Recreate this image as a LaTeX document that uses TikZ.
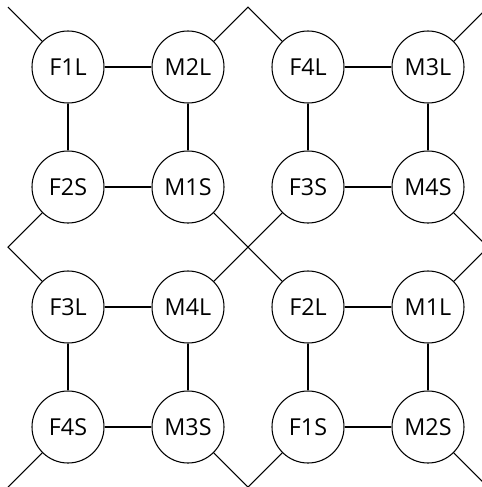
\documentclass[tikz,border=0pt]{standalone}
\usepackage{fontspec}
\setmainfont{Open Sans}
\begin{document}
\begin{tikzpicture}[x=0.75pt,y=-0.75pt,
  person/.style={circle,draw=black,line width=0.8pt,minimum size=54pt,inner sep=0pt,font=\fontsize{17.5pt}{20pt}\selectfont},
  link/.style={draw=black,line width=0.8pt}]
\useasboundingbox (0,0) rectangle (482,487);
\clip (0,0) rectangle (482,487);
% free ends
\coordinate (tl) at (8,7);
\coordinate (tm) at (248,7);
\coordinate (tr) at (488,7);
\coordinate (ml) at (8,247);
\coordinate (mr) at (488,247);
\coordinate (bl) at (8,487);
\coordinate (bm) at (248,487);
\coordinate (br) at (488,487);
% nodes
\node[person] (F1L) at (68,67) {F1L};
\node[person] (M2L) at (188,67) {M2L};
\node[person] (F4L) at (308,67) {F4L};
\node[person] (M3L) at (428,67) {M3L};
\node[person] (F2S) at (68,187) {F2S};
\node[person] (M1S) at (188,187) {M1S};
\node[person] (F3S) at (308,187) {F3S};
\node[person] (M4S) at (428,187) {M4S};
\node[person] (F3L) at (68,307) {F3L};
\node[person] (M4L) at (188,307) {M4L};
\node[person] (F2L) at (308,307) {F2L};
\node[person] (M1L) at (428,307) {M1L};
\node[person] (F4S) at (68,427) {F4S};
\node[person] (M3S) at (188,427) {M3S};
\node[person] (F1S) at (308,427) {F1S};
\node[person] (M2S) at (428,427) {M2S};
% horizontal
\draw[link] (F1L) -- (M2L);
\draw[link] (F4L) -- (M3L);
\draw[link] (F2S) -- (M1S);
\draw[link] (F3S) -- (M4S);
\draw[link] (F3L) -- (M4L);
\draw[link] (F2L) -- (M1L);
\draw[link] (F4S) -- (M3S);
\draw[link] (F1S) -- (M2S);
% vertical
\draw[link] (F1L) -- (F2S);
\draw[link] (M2L) -- (M1S);
\draw[link] (F4L) -- (F3S);
\draw[link] (M3L) -- (M4S);
\draw[link] (F3L) -- (F4S);
\draw[link] (M4L) -- (M3S);
\draw[link] (F2L) -- (F1S);
\draw[link] (M1L) -- (M2S);
% diagonals
\draw[link] (F1L) -- (tl);
\draw[link] (M2L) -- (tm) -- (F4L);
\draw[link] (M3L) -- (tr);
\draw[link] (F2S) -- (ml) -- (F3L);
\draw[link] (M1S) -- (F2L);
\draw[link] (F3S) -- (M4L);
\draw[link] (M4S) -- (mr) -- (M1L);
\draw[link] (F4S) -- (bl);
\draw[link] (M3S) -- (bm) -- (F1S);
\draw[link] (M2S) -- (br);
\end{tikzpicture}
\end{document}
